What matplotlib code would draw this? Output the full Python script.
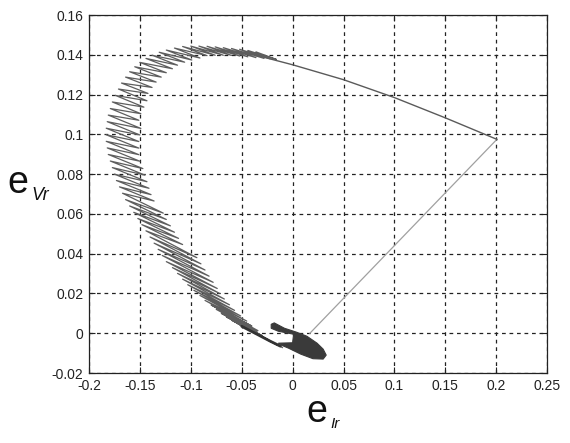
import matplotlib
matplotlib.use("Agg")
import matplotlib.pyplot as plt

# ---------------- data ----------------
# straight part of the trajectory: start -> corner -> start of chattering band
line_x = [0.017, 0.2006, 0.150, 0.100, 0.050, 0.000, -0.035]
line_y = [0.000, 0.0975, 0.1083, 0.1185, 0.1275, 0.1350, 0.1397]

# chattering band: upper-left (outer) ends of the hatches
outer_x = [-0.036, -0.044, -0.052, -0.060, -0.068, -0.076, -0.084, -0.092, -0.100, -0.108,
           -0.116, -0.124, -0.131, -0.138, -0.144, -0.150, -0.155, -0.160, -0.164, -0.168,
           -0.171, -0.174, -0.177, -0.179, -0.181, -0.182, -0.183, -0.183, -0.183, -0.182,
           -0.181, -0.179, -0.177, -0.175, -0.173, -0.170, -0.167, -0.164, -0.160, -0.156,
           -0.152, -0.148, -0.144, -0.140, -0.136, -0.132, -0.128, -0.124, -0.118, -0.113,
           -0.108, -0.103, -0.097, -0.091, -0.086, -0.080, -0.075, -0.070, -0.065, -0.060,
           -0.055, -0.050]
outer_y = [0.1415, 0.1422, 0.1428, 0.1432, 0.1436, 0.1440, 0.1443, 0.1444, 0.1444, 0.1442,
           0.1434, 0.1424, 0.1413, 0.1398, 0.1382, 0.1362, 0.1340, 0.1315, 0.1288, 0.1258,
           0.1228, 0.1196, 0.1163, 0.1130, 0.1097, 0.1064, 0.1031, 0.0998, 0.0965, 0.0932,
           0.0899, 0.0866, 0.0833, 0.0800, 0.0768, 0.0736, 0.0704, 0.0672, 0.0640, 0.0608,
           0.0577, 0.0546, 0.0515, 0.0484, 0.0453, 0.0422, 0.0391, 0.0360, 0.0330, 0.0301,
           0.0272, 0.0244, 0.0216, 0.0190, 0.0165, 0.0142, 0.0120, 0.0100, 0.0082, 0.0066,
           0.0052, 0.0040]
# lower-right (inner) ends of the hatches
inner_x = [-0.016, -0.022, -0.028, -0.036, -0.044, -0.052, -0.060, -0.068, -0.076, -0.084,
           -0.091, -0.099, -0.106, -0.113, -0.118, -0.124, -0.129, -0.134, -0.138, -0.142,
           -0.143, -0.146, -0.149, -0.151, -0.149, -0.150, -0.151, -0.151, -0.151, -0.150,
           -0.147, -0.145, -0.143, -0.141, -0.139, -0.136, -0.127, -0.124, -0.120, -0.116,
           -0.112, -0.108, -0.094, -0.090, -0.086, -0.082, -0.078, -0.074, -0.072, -0.067,
           -0.062, -0.057, -0.051, -0.045, -0.040, -0.034, -0.035, -0.030, -0.025, -0.020,
           -0.015, -0.010]
inner_y = [0.1377, 0.1380, 0.1382, 0.1386, 0.1390, 0.1394, 0.1397, 0.1398, 0.1398, 0.1396,
           0.1384, 0.1374, 0.1363, 0.1348, 0.1330, 0.1310, 0.1288, 0.1263, 0.1236, 0.1206,
           0.1169, 0.1137, 0.1104, 0.1071, 0.1030, 0.0997, 0.0964, 0.0931, 0.0898, 0.0865,
           0.0828, 0.0795, 0.0762, 0.0729, 0.0697, 0.0665, 0.0604, 0.0572, 0.0540, 0.0508,
           0.0477, 0.0446, 0.0380, 0.0349, 0.0318, 0.0287, 0.0256, 0.0225, 0.0201, 0.0172,
           0.0143, 0.0115, 0.0087, 0.0061, 0.0036, 0.0013, 0.0008, -0.0012, -0.0030, -0.0046,
           -0.0060, -0.0072]

# dark streak from band into the final blob
tail_x = [-0.050, -0.035, -0.022, -0.012]
tail_y = [0.0035, -0.0005, -0.0040, -0.0065]

# final dense chattering region (outline)
blob_x = [-0.021, -0.018, -0.008, 0.004, 0.014, 0.024, 0.030, 0.033, 0.030, 0.020, 0.008,
          -0.004, -0.012, -0.014, 0.000, 0.001, -0.006, -0.014, -0.021]
blob_y = [0.0045, 0.0052, 0.0025, 0.0005, -0.0015, -0.0050, -0.0080, -0.0110, -0.0130,
          -0.0128, -0.0105, -0.0075, -0.0058, -0.0050, -0.0048, -0.0005, 0.0002, 0.0010,
          0.0025]

x_ticks = [-0.2, -0.15, -0.1, -0.05, 0, 0.05, 0.1, 0.15, 0.2, 0.25]
x_tick_labels = ['-0.2', '-0.15', '-0.1', '-0.05', '0', '0.05', '0.1', '0.15', '0.2', '0.25']
y_ticks = [-0.02, 0, 0.02, 0.04, 0.06, 0.08, 0.1, 0.12, 0.14, 0.16]
y_tick_labels = ['-0.02', '0', '0.02', '0.04', '0.06', '0.08', '0.1', '0.12', '0.14', '0.16']

# ---------------- figure ----------------
plt.rcParams['font.family'] = ['Liberation Sans', 'DejaVu Sans']
fig = plt.figure(figsize=(5.70, 4.43), dpi=100)
ax = fig.add_axes([0.156, 0.158, 0.804, 0.808])

# zigzag path
zx, zy = [], []
for a, b, c, d in zip(outer_x, outer_y, inner_x, inner_y):
    zx += [a, c]
    zy += [b, d]

ax.plot(line_x[:2], line_y[:2], color='#a0a0a0', lw=0.9, zorder=3)
ax.plot(line_x[1:], line_y[1:], color='#5a5a5a', lw=1.0, zorder=3)
ax.plot([line_x[-1]] + zx, [line_y[-1]] + zy, color='#5e5e5e', lw=0.9, zorder=3)
ax.plot(tail_x, tail_y, color='#333333', lw=2.0, solid_capstyle='round', zorder=3)
ax.fill(blob_x, blob_y, color='#3a3a3a', lw=0.8, edgecolor='#3a3a3a', zorder=4)

ax.set_xlim(-0.2, 0.25)
ax.set_ylim(-0.02, 0.16)
ax.set_xticks(x_ticks)
ax.set_xticklabels(x_tick_labels)
ax.set_yticks(y_ticks)
ax.set_yticklabels(y_tick_labels)
ax.tick_params(direction='in', length=4, width=0.8, labelsize=10, colors='#222222',
               top=True, right=True, pad=4)
ax.grid(True, color='#222222', linestyle=(0, (3, 3)), lw=0.9)
for s in ax.spines.values():
    s.set_color('#222222')
    s.set_linewidth(0.9)

# axis labels: large upright e with italic subscript
fig.text(0.574, 0.047, 'e', fontsize=27, ha='right', va='baseline', color='#111111')
fig.text(0.588, 0.034, 'Ir', fontsize=11, style='italic', ha='center', va='baseline',
         color='#111111')
fig.text(0.050, 0.565, 'e', fontsize=27, ha='right', va='baseline', color='#111111')
fig.text(0.071, 0.548, 'Vr', fontsize=13, style='italic', ha='center', va='baseline',
         color='#111111')

fig.savefig('out.png', dpi=100, facecolor='white')
